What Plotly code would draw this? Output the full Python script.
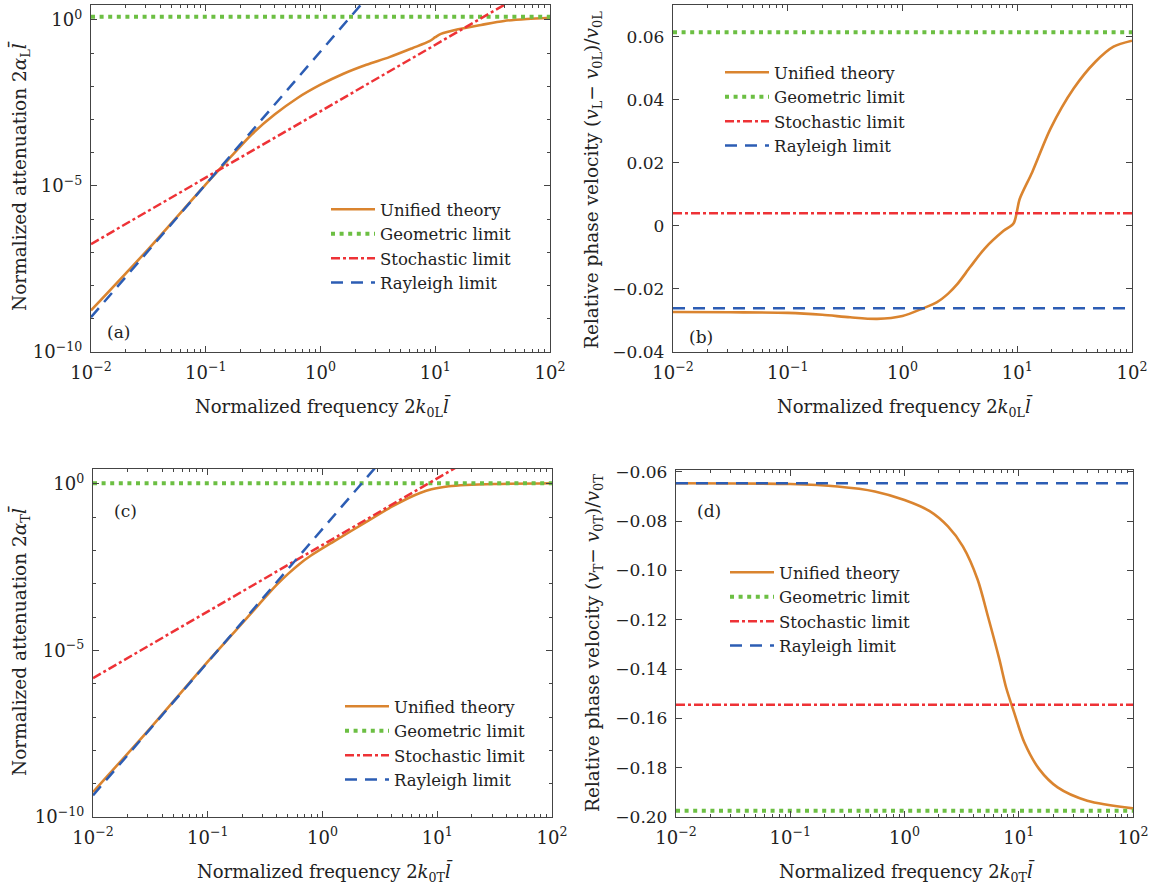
import plotly.graph_objects as go

# ---------------- data ----------------
# (a) longitudinal attenuation
freq_a = [0.01, 0.0316, 0.1, 0.158, 0.251, 0.398, 0.631, 1.0, 1.585, 2.512, 3.981,
          6.31, 8.91, 10.0, 11.2, 15.85, 25.1, 39.8, 63.1, 100.0]
unified_a = [1.78e-9, 1.26e-7, 1.12e-5, 6.3e-5, 3.55e-4, 1.41e-3, 4.47e-3, 1.12e-2,
             2.40e-2, 4.47e-2, 7.59e-2, 0.141, 0.229, 0.302, 0.38, 0.525, 0.708,
             0.933, 1.07, 1.17]
geometric_a = 1.25
stoch_a_x = [0.01, 100.0]
stoch_a_y = [1.78e-7, 17.8]
rayleigh_a_x = [0.01, 100.0]
rayleigh_a_y = [1.12e-9, 1.12e7]

# (b) longitudinal relative phase velocity
freq_b = [0.01, 0.0316, 0.1, 0.2, 0.35, 0.6, 1.0, 1.5, 2.0, 2.5, 3.0, 3.9, 5.2, 7.6,
          9.3, 10.5, 13.5, 19.5, 31.0, 48.0, 69.0, 100.0]
unified_b = [-0.0273, -0.0274, -0.0276, -0.0282, -0.0290, -0.0295, -0.0286, -0.0262,
             -0.0242, -0.0215, -0.0185, -0.0130, -0.0072, -0.0016, 0.0008, 0.0085,
             0.0170, 0.0308, 0.0435, 0.0520, 0.0568, 0.0587]
geometric_b = 0.0614
stochastic_b = 0.0040
rayleigh_b = -0.0261

# (c) transverse attenuation
freq_c = [0.01, 0.0316, 0.1, 0.178, 0.282, 0.398, 0.501, 0.631, 0.794, 1.259, 2.512,
          3.98, 5.62, 7.08, 8.91, 12.6, 17.8, 31.6, 100.0]
unified_c = [5.6e-10, 4.7e-8, 4.6e-6, 4.2e-5, 2.51e-4, 9.3e-4, 2.0e-3, 3.98e-3,
             7.1e-3, 0.019, 0.079, 0.204, 0.38, 0.537, 0.692, 0.851, 0.933, 1.0, 1.05]
geometric_c = 1.05
stoch_c_x = [0.01, 100.0]
stoch_c_y = [1.48e-6, 148.0]
rayleigh_c_x = [0.01, 100.0]
rayleigh_c_y = [4.47e-10, 4.47e6]

# (d) transverse relative phase velocity
freq_d = [0.01, 0.1, 0.26, 0.55, 1.0, 1.66, 2.4, 3.24, 4.37, 5.37, 6.76, 7.76,
          9.12, 11.2, 15.1, 21.9, 39.8, 100.0]
unified_d = [-0.0647, -0.0650, -0.0660, -0.0680, -0.0715, -0.0760, -0.0822, -0.0903,
             -0.1038, -0.1186, -0.1360, -0.1476, -0.1577, -0.1698, -0.1806, -0.1880,
             -0.1934, -0.1965]
geometric_d = -0.1975
stochastic_d = -0.1545
rayleigh_d = -0.0647

x_limits = [0.01, 100.0]
series_names = ["Unified theory", "Geometric limit", "Stochastic limit", "Rayleigh limit"]

x_tickvals = [0.01, 0.1, 1, 10, 100]
x_ticktext = ["10<sup>−2</sup>", "10<sup>−1</sup>", "10<sup>0</sup>", "10<sup>1</sup>", "10<sup>2</sup>"]
att_tickvals = [1e-10, 1e-5, 1]
att_ticktext = ["10<sup>−10</sup>", "10<sup>−5</sup>", "10<sup>0</sup>"]
b_tickvals = [-0.04, -0.02, 0, 0.02, 0.04, 0.06]
b_ticktext = ["−0.04", "−0.02", "0", "0.02", "0.04", "0.06"]
d_tickvals = [-0.20, -0.18, -0.16, -0.14, -0.12, -0.10, -0.08, -0.06]
d_ticktext = ["−0.20", "−0.18", "−0.16", "−0.14", "−0.12", "−0.10", "−0.08", "−0.06"]

# ---------------- styling ----------------
SERIF = "DejaVu Serif"
ORANGE = "#DA842F"
GREEN = "#6CBF43"
RED = "#EE3236"
BLUE = "#2C5DB4"
AXC = "#444444"
W, H = 1157, 884

minor_x = [m * 10.0 ** e for e in range(-2, 2) for m in range(2, 10)]
minor_att = [10.0 ** e for e in range(-9, 0) if e != -5]

def line_style(kind):
    if kind == 0:
        return dict(color=ORANGE, width=2.6)
    if kind == 1:
        return dict(color=GREEN, width=4, dash="4px,4.6px")
    if kind == 2:
        return dict(color=RED, width=2.5, dash="9px,3px,3px,3px")
    return dict(color=BLUE, width=2.5, dash="12px,8px")

fig = go.Figure()

def add(x, y, kind, ax, leg):
    fig.add_trace(go.Scatter(
        x=x, y=y, mode="lines", name=series_names[kind],
        line=dict(**line_style(kind), shape="spline" if kind == 0 else "linear",
                  smoothing=0.8 if kind == 0 else None),
        xaxis="x" + ax, yaxis="y" + ax, legend=leg, showlegend=True,
    ))

# panel a
add(freq_a, unified_a, 0, "", "legend")
add(x_limits, [geometric_a, geometric_a], 1, "", "legend")
add(stoch_a_x, stoch_a_y, 2, "", "legend")
add(rayleigh_a_x, rayleigh_a_y, 3, "", "legend")
# panel b
add(freq_b, unified_b, 0, "2", "legend2")
add(x_limits, [geometric_b, geometric_b], 1, "2", "legend2")
add(x_limits, [stochastic_b, stochastic_b], 2, "2", "legend2")
add(x_limits, [rayleigh_b, rayleigh_b], 3, "2", "legend2")
# panel c
add(freq_c, unified_c, 0, "3", "legend3")
add(x_limits, [geometric_c, geometric_c], 1, "3", "legend3")
add(stoch_c_x, stoch_c_y, 2, "3", "legend3")
add(rayleigh_c_x, rayleigh_c_y, 3, "3", "legend3")
# panel d
add(freq_d, unified_d, 0, "4", "legend4")
add(x_limits, [geometric_d, geometric_d], 1, "4", "legend4")
add(x_limits, [stochastic_d, stochastic_d], 2, "4", "legend4")
add(x_limits, [rayleigh_d, rayleigh_d], 3, "4", "legend4")

def px_x(a, b):
    return [a / W, b / W]

def px_y(top, bottom):
    return [1 - bottom / H, 1 - top / H]

base = dict(showline=True, linecolor=AXC, linewidth=1.3, mirror="ticks", ticks="inside",
            ticklen=6, tickwidth=1, tickcolor=AXC, showgrid=False, zeroline=False,
            automargin=False,
            tickfont=dict(family=SERIF, size=17, color="#222"))

def xaxis(domain, anchor):
    return dict(base, type="log", range=[-2, 2], domain=domain, anchor=anchor,
                tickvals=x_tickvals, ticktext=x_ticktext, ticklabelstandoff=4,
                tickfont=dict(family=SERIF, size=18, color="#222"),
                minor=dict(ticks="inside", ticklen=3, tickwidth=1, tickcolor=AXC, tickvals=minor_x))

def yaxis_log(domain, anchor):
    return dict(base, type="log", range=[-10, 0.45], domain=domain, anchor=anchor,
                tickvals=att_tickvals, ticktext=att_ticktext, ticklabelstandoff=4,
                tickfont=dict(family=SERIF, size=18, color="#222"),
                minor=dict(ticks="inside", ticklen=3, tickwidth=1, tickcolor=AXC, tickvals=minor_att))

dom_a = (px_x(91, 550), px_y(5, 352))
dom_b = (px_x(673, 1132), px_y(5, 352))
dom_c = (px_x(93, 552), px_y(469, 817))
dom_d = (px_x(676, 1133), px_y(470, 817))

fig.update_layout(
    width=W, height=H, autosize=False,
    margin=dict(l=0, r=0, t=0, b=0, pad=0, autoexpand=False),
    paper_bgcolor="white", plot_bgcolor="white",
    font=dict(family=SERIF, size=17, color="#222"),
    xaxis=xaxis(dom_a[0], "y"),
    yaxis=yaxis_log(dom_a[1], "x"),
    xaxis2=xaxis(dom_b[0], "y2"),
    yaxis2=dict(base, range=[-0.04, 0.07], domain=dom_b[1], anchor="x2",
                tickvals=b_tickvals, ticktext=b_ticktext, ticklabelstandoff=4),
    xaxis3=xaxis(dom_c[0], "y3"),
    yaxis3=yaxis_log(dom_c[1], "x3"),
    xaxis4=xaxis(dom_d[0], "y4"),
    yaxis4=dict(base, range=[-0.2, -0.0593], domain=dom_d[1], anchor="x4",
                tickvals=d_tickvals, ticktext=d_ticktext, ticklabelstandoff=4),
)

leg_common = dict(bgcolor="rgba(0,0,0,0)", borderwidth=0, xanchor="left", yanchor="top",
                  font=dict(family=SERIF, size=16.5, color="#222"), itemwidth=44,
                  tracegroupgap=0)
fig.update_layout(
    legend=dict(leg_common, x=326 / W, y=1 - 192 / H),
    legend2=dict(leg_common, x=720 / W, y=1 - 55 / H),
    legend3=dict(leg_common, x=340 / W, y=1 - 689 / H),
    legend4=dict(leg_common, x=725 / W, y=1 - 555 / H),
)

def ann(text, x, y, angle=0, size=18):
    fig.add_annotation(text=text, x=x / W, y=1 - y / H, xref="paper", yref="paper",
                       showarrow=False, textangle=angle, xanchor="center", yanchor="middle",
                       font=dict(family=SERIF, size=size, color="#222"))

xt_L = "Normalized frequency 2<i>k</i><sub>0L</sub><i>l̄</i>"
xt_T = "Normalized frequency 2<i>k</i><sub>0T</sub><i>l̄</i>"
ann(xt_L, 323, 407)
ann(xt_L, 905, 407)
ann(xt_T, 325, 872)
ann(xt_T, 907, 872)
ann("Normalized attenuation 2<i>α</i><sub>L</sub><i>l̄</i>", 20, 176, -90, size=18.5)
ann("Relative phase velocity (<i>v</i><sub>L</sub>− <i>v</i><sub>0L</sub>)/<i>v</i><sub>0L</sub>",
    593, 180, -90, size=18.5)
ann("Normalized attenuation 2<i>α</i><sub>T</sub><i>l̄</i>", 20, 641, -90, size=18.5)
ann("Relative phase velocity (<i>v</i><sub>T</sub>− <i>v</i><sub>0T</sub>)/<i>v</i><sub>0T</sub>",
    594, 643, -90, size=18.5)

ann("(a)", 118, 332, size=17)
ann("(b)", 701, 337, size=17)
ann("(c)", 125, 511, size=17)
ann("(d)", 709, 511, size=17)

fig.write_html("out.html", config={"displayModeBar": False},
               post_script="document.body.style.margin='0';")
